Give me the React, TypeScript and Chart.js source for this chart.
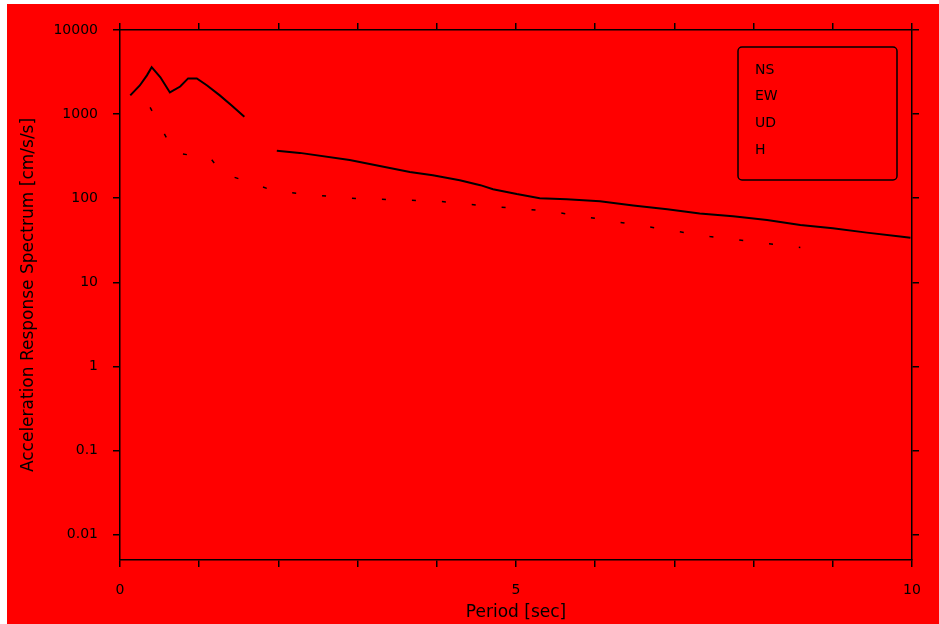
import React, { useEffect, useRef } from "react";
import { Chart, registerables } from "chart.js";

Chart.register(...registerables);

// ---- data ----
const seriesLabels = ["NS", "EW", "UD", "H"];

const periodsNS = [
  0.13, 0.25, 0.34, 0.4, 0.51, 0.63, 0.76, 0.86, 0.97, 1.1, 1.26, 1.41, 1.57,
  1.8, 1.98, 2.27, 2.9, 3.28, 3.66, 3.95, 4.29, 4.55, 4.71, 5.01, 5.3, 5.64,
  6.06, 6.48, 6.91, 7.32, 7.74, 8.17, 8.59, 9.0, 9.43, 9.85, 9.98,
];
const accelNS = [
  1670, 2190, 2890, 3610, 2740, 1810, 2130, 2660, 2660, 2190, 1670, 1270, 930,
  null, 366, 346, 285, 242, 205, 188, 164, 143, 128, 112, 100, 97, 92, 82, 74,
  66, 61, 55, 48, 44, 39, 35, 34,
];

const periodsEW = [0.38, 0.69, 1.14, 1.29, 1.96, 2.9, 4.04, 4.55, 5.43, 7.45, 8.59];
const accelEW = [1200, 346, 301, 199, 121, 100, 92, 82, 70, 35, 26];

const yTickValues = [0.01, 0.1, 1, 10, 100, 1000, 10000];
const xMajorLabels = [0, 5, 10];

const xTitle = "Period [sec]";
const yTitle = "Acceleration Response Spectrum [cm/s/s]";

const RED = "#ff0000";
const BLACK = "#000000";

const pairs = (xs: number[], ys: (number | null)[]) =>
  xs.map((x, i) => ({ x, y: ys[i] }));

const boxLegend = {
  id: "boxLegend",
  afterDraw(chart: any) {
    const { ctx, chartArea } = chart;
    const left = chartArea.right - 174;
    const top = chartArea.top + 17;
    const w = 159;
    const h = 133;
    ctx.save();
    ctx.strokeStyle = BLACK;
    ctx.lineWidth = 1.5;
    ctx.beginPath();
    if (ctx.roundRect) ctx.roundRect(left, top, w, h, 4);
    else ctx.rect(left, top, w, h);
    ctx.stroke();
    ctx.fillStyle = BLACK;
    ctx.font = "14px 'DejaVu Sans'";
    ctx.textBaseline = "middle";
    ctx.textAlign = "left";
    chart.data.datasets.forEach((ds: any, i: number) => {
      ctx.fillText(ds.label, left + 17, top + 23 + i * 26.7);
    });
    ctx.restore();
  },
};

export default function App() {
  const ref = useRef<HTMLCanvasElement | null>(null);

  useEffect(() => {
    document.body.style.margin = "0";
    document.body.style.overflow = "hidden";
    const canvas = ref.current;
    if (!canvas) return;

    const fixTicks = (scale: any) => {
      scale.ticks = yTickValues.map((v) => ({ value: v }));
    };
    const tickFont = { family: "'DejaVu Sans'", size: 14 };
    const titleFont = { family: "'DejaVu Sans'", size: 17 };
    const grid = {
      drawOnChartArea: false,
      drawTicks: true,
      tickLength: 7,
      color: BLACK,
      lineWidth: 1.5,
    };
    const border = { display: true, color: BLACK, width: 1.5 };

    const chart = new Chart(canvas, {
      type: "line",
      data: {
        datasets: [
          {
            label: seriesLabels[0],
            data: pairs(periodsNS, accelNS),
            borderColor: BLACK,
            borderWidth: 2,
            pointRadius: 0,
            spanGaps: false,
            tension: 0,
          },
          {
            label: seriesLabels[1],
            data: pairs(periodsEW, accelEW),
            borderColor: BLACK,
            borderWidth: 1.5,
            borderDash: [4, 26],
            pointRadius: 0,
            tension: 0,
          },
          { label: seriesLabels[2], data: [], borderColor: RED, pointRadius: 0 },
          { label: seriesLabels[3], data: [], borderColor: RED, pointRadius: 0 },
        ],
      },
      options: {
        animation: false,
        responsive: false,
        maintainAspectRatio: false,
        layout: { padding: 0 },
        plugins: {
          legend: { display: false },
          tooltip: { enabled: false },
        },
        scales: {
          x: {
            type: "linear",
            position: "bottom",
            min: 0,
            max: 10,
            ticks: {
              stepSize: 1,
              color: BLACK,
              font: tickFont,
              padding: 15,
              maxRotation: 0,
              autoSkip: false,
              callback: (v: any) => (xMajorLabels.includes(Number(v)) ? String(v) : ""),
            },
            grid,
            border,
            title: {
              display: true,
              text: xTitle,
              color: BLACK,
              font: titleFont,
              padding: { top: 0, bottom: 1 },
            },
            afterFit: (s: any) => {
              s.height = 64;
            },
          },
          xTop: {
            type: "linear",
            position: "top",
            min: 0,
            max: 10,
            ticks: { stepSize: 1, display: false, autoSkip: false },
            grid,
            border,
            afterFit: (s: any) => {
              s.height = 26;
            },
          },
          y: {
            type: "logarithmic",
            position: "left",
            min: 0.005,
            max: 10000,
            afterBuildTicks: fixTicks,
            ticks: {
              color: BLACK,
              font: tickFont,
              padding: 15,
              autoSkip: false,
              callback: (v: any) => String(Number(v)),
            },
            grid,
            border,
            title: {
              display: true,
              text: yTitle,
              color: BLACK,
              font: titleFont,
              padding: { top: 11, bottom: 0 },
            },
            afterFit: (s: any) => {
              s.width = 113;
            },
          },
          yRight: {
            type: "logarithmic",
            position: "right",
            min: 0.005,
            max: 10000,
            afterBuildTicks: fixTicks,
            ticks: { display: false },
            grid,
            border,
            afterFit: (s: any) => {
              s.width = 27;
            },
          },
        },
      },
      plugins: [boxLegend],
    } as any);

    return () => chart.destroy();
  }, []);

  return (
    <div
      style={{
        position: "absolute",
        left: 7,
        top: 4,
        width: 932,
        height: 620,
        background: RED,
      }}
    >
      <canvas ref={ref} width={932} height={620} style={{ display: "block" }} />
    </div>
  );
}
